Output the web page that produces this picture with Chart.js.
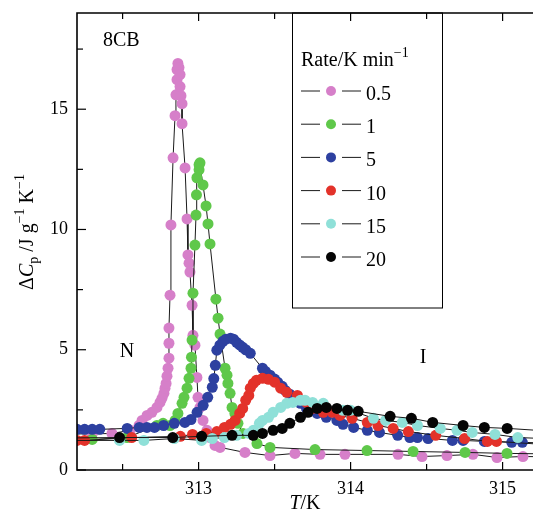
<!DOCTYPE html>
<html>
<head>
<meta charset="utf-8">
<script src="https://cdn.jsdelivr.net/npm/chart.js@4.4.1/dist/chart.umd.min.js"></script>
<style>
  html, body { margin: 0; padding: 0; background: #fff; }
  canvas { display: block; }
</style>
</head>
<body>
<canvas id="c" width="533" height="511" style="width:533px;height:511px"></canvas>
<script>
// Heating rates (K/min) and marker colours
const rates = ['0.5', '1', '5', '10', '15', '20'];
const rateColors = ['#d67fc9', '#5fc84a', '#2d40a0', '#e3322a', '#8fe0d8', '#050505'];

// Excess heat capacity of 8CB across the N–I transition
const T_05  = [312.10, 312.30, 312.43, 312.55, 312.608, 312.628, 312.661, 312.693, 312.726, 312.746, 312.759, 312.772, 312.779, 312.786, 312.792, 312.799, 312.805, 312.805, 312.805, 312.812, 312.818, 312.832, 312.845, 312.851, 312.858, 312.858, 312.864, 312.871, 312.878, 312.878, 312.884, 312.891, 312.891, 312.911, 312.924, 312.930, 312.937, 312.943, 312.957, 312.963, 312.976, 312.989, 312.996, 313.009, 313.029, 313.055, 313.075, 313.108, 313.141, 313.305, 313.470, 313.634, 313.799, 313.963, 314.312, 314.470, 314.634, 314.805, 314.963, 315.134, 315.30];
const Cp_05 = [1.50, 1.50, 1.52, 1.65, 1.85, 2.06, 2.27, 2.40, 2.60, 2.81, 2.98, 3.19, 3.40, 3.60, 3.90, 4.23, 4.65, 5.27, 5.90, 7.27, 10.19, 12.98, 14.73, 15.60, 16.23, 16.65, 16.90, 16.73, 16.44, 15.94, 15.56, 15.23, 14.40, 12.56, 10.44, 8.94, 8.60, 8.23, 6.85, 5.60, 5.19, 3.85, 3.02, 2.60, 2.06, 1.65, 1.35, 1.02, 0.94, 0.73, 0.60, 0.69, 0.65, 0.65, 0.65, 0.56, 0.60, 0.65, 0.52, 0.56, 0.55];

const T_1   = [312.10, 312.30, 312.53, 312.726, 312.766, 312.812, 312.845, 312.864, 312.891, 312.904, 312.924, 312.937, 312.950, 312.953, 312.957, 312.963, 312.976, 312.983, 312.986, 312.989, 313.003, 313.003, 313.009, 313.029, 313.049, 313.062, 313.075, 313.114, 313.128, 313.141, 313.174, 313.187, 313.193, 313.207, 313.220, 313.239, 313.259, 313.292, 313.384, 313.470, 313.766, 314.108, 314.411, 314.753, 315.029, 315.30];
const Cp_1  = [1.27, 1.27, 1.35, 1.85, 1.94, 1.85, 2.06, 2.35, 2.77, 3.02, 3.40, 3.81, 4.23, 4.69, 5.40, 7.35, 9.35, 10.60, 11.44, 12.15, 12.48, 12.69, 12.77, 11.85, 10.98, 10.23, 9.40, 7.10, 6.31, 5.65, 4.23, 3.94, 3.60, 3.19, 2.60, 2.35, 1.94, 1.52, 1.10, 0.94, 0.85, 0.81, 0.77, 0.73, 0.69, 0.67];

const T_5   = [312.20, 312.25, 312.30, 312.35, 312.53, 312.61, 312.66, 312.71, 312.77, 312.84, 312.91, 312.95, 312.99, 313.03, 313.06, 313.09, 313.10, 313.11, 313.12, 313.14, 313.16, 313.18, 313.21, 313.23, 313.25, 313.27, 313.29, 313.31, 313.34, 313.42, 313.44, 313.47, 313.50, 313.52, 313.55, 313.57, 313.60, 313.62, 313.67, 313.71, 313.78, 313.84, 313.91, 313.95, 314.02, 314.11, 314.19, 314.31, 314.39, 314.44, 314.51, 314.67, 314.74, 314.88, 315.06, 315.13, 315.30];
const Cp_5  = [1.69, 1.69, 1.69, 1.69, 1.73, 1.77, 1.77, 1.77, 1.85, 1.94, 1.98, 2.10, 2.40, 2.69, 3.02, 3.44, 3.80, 4.35, 4.98, 5.19, 5.35, 5.44, 5.48, 5.44, 5.31, 5.20, 5.10, 5.00, 4.85, 4.23, 4.10, 3.94, 3.78, 3.65, 3.48, 3.31, 3.15, 3.02, 2.77, 2.56, 2.35, 2.19, 2.06, 1.90, 1.77, 1.65, 1.56, 1.44, 1.35, 1.35, 1.31, 1.23, 1.23, 1.19, 1.15, 1.15, 1.12];

const T_10  = [312.20, 312.25, 312.56, 312.88, 312.96, 313.05, 313.12, 313.17, 313.21, 313.24, 313.27, 313.29, 313.31, 313.33, 313.34, 313.36, 313.38, 313.42, 313.46, 313.50, 313.54, 313.58, 313.65, 313.71, 313.75, 313.82, 313.88, 313.93, 314.01, 314.11, 314.18, 314.28, 314.38, 314.56, 314.75, 314.90, 314.96, 315.30];
const Cp_10 = [1.23, 1.23, 1.35, 1.40, 1.48, 1.52, 1.60, 1.77, 1.90, 2.06, 2.35, 2.56, 2.90, 3.10, 3.40, 3.60, 3.73, 3.81, 3.77, 3.65, 3.40, 3.23, 3.10, 2.81, 2.56, 2.40, 2.40, 2.27, 2.15, 1.98, 1.85, 1.73, 1.60, 1.44, 1.31, 1.19, 1.19, 1.05];

const T_15  = [312.10, 312.48, 312.64, 312.84, 313.02, 313.09, 313.17, 313.25, 313.33, 313.36, 313.40, 313.42, 313.46, 313.49, 313.54, 313.58, 313.62, 313.67, 313.70, 313.75, 313.82, 313.95, 314.00, 314.15, 314.23, 314.34, 314.44, 314.59, 314.70, 314.80, 314.95, 315.10, 315.30];
const Cp_15 = [1.23, 1.23, 1.23, 1.31, 1.23, 1.31, 1.35, 1.44, 1.52, 1.65, 1.94, 2.06, 2.19, 2.40, 2.60, 2.77, 2.81, 2.90, 2.90, 2.81, 2.77, 2.48, 2.48, 2.15, 2.06, 1.98, 1.85, 1.73, 1.65, 1.56, 1.48, 1.35, 1.30];

const T_20  = [312.10, 312.48, 312.83, 313.02, 313.22, 313.36, 313.42, 313.49, 313.55, 313.60, 313.67, 313.72, 313.78, 313.84, 313.91, 313.98, 314.05, 314.26, 314.40, 314.54, 314.74, 314.88, 315.03, 315.30];
const Cp_20 = [1.33, 1.35, 1.35, 1.40, 1.44, 1.44, 1.52, 1.65, 1.73, 1.94, 2.19, 2.40, 2.56, 2.60, 2.56, 2.48, 2.44, 2.23, 2.15, 1.98, 1.85, 1.77, 1.73, 1.62];

// Axis tick values
const xTicks = [313, 314, 315];
const xMinorTicks = [312.5, 313.5, 314.5];
const yTicks = [0, 5, 10, 15];
const yMinorTicks = [2.5, 7.5, 12.5, 17.5];

const seriesT  = [T_05, T_1, T_5, T_10, T_15, T_20];
const seriesCp = [Cp_05, Cp_1, Cp_5, Cp_10, Cp_15, Cp_20];

const SERIF = "'Liberation Serif', 'Times New Roman', serif";
function fontOf(p, base) {
  return (p.i ? 'italic ' : '') + (p.s || base) + 'px ' + SERIF;
}
// Draws a run of text pieces (with sub/superscripts) along the baseline
function drawRich(ctx, parts, x, y, base, align) {
  let w = 0;
  parts.forEach(p => { ctx.font = fontOf(p, base); w += ctx.measureText(p.t).width; });
  let cx = align === 'center' ? x - w / 2 : x;
  ctx.textAlign = 'left';
  ctx.textBaseline = 'alphabetic';
  parts.forEach(p => {
    ctx.font = fontOf(p, base);
    ctx.fillText(p.t, cx, y + (p.dy || 0));
    cx += ctx.measureText(p.t).width;
  });
}

// Build datasets; the fastest rate is drawn on top
const order = [5, 4, 3, 2, 1, 0];
const datasets = order.map(k => ({
  label: rates[k],
  data: seriesT[k].map((t, j) => ({ x: t, y: seriesCp[k][j] })),
  showLine: true,
  borderColor: '#1a1a1a',
  borderWidth: 1,
  pointRadius: 5.5,
  pointHoverRadius: 5.5,
  pointBorderWidth: 0,
  pointBackgroundColor: rateColors[k],
  pointBorderColor: rateColors[k]
}));

const decorations = {
  id: 'decorations',
  afterDraw(chart) {
    const { ctx, chartArea: a, scales: { x, y } } = chart;
    ctx.save();
    ctx.fillStyle = '#000';
    ctx.strokeStyle = '#000';

    // frame: top, left, bottom
    ctx.lineWidth = 1.6;
    ctx.beginPath();
    ctx.moveTo(a.right + 2, a.top);
    ctx.lineTo(a.left, a.top);
    ctx.lineTo(a.left, a.bottom);
    ctx.lineTo(a.right + 2, a.bottom);
    ctx.stroke();

    // inward tick marks
    ctx.lineWidth = 1.2;
    const seg = (x1, y1, x2, y2) => { ctx.beginPath(); ctx.moveTo(x1, y1); ctx.lineTo(x2, y2); ctx.stroke(); };
    xTicks.forEach(v => { const p = x.getPixelForValue(v); seg(p, a.bottom, p, a.bottom - 8); seg(p, a.top, p, a.top + 8); });
    xMinorTicks.forEach(v => { const p = x.getPixelForValue(v); seg(p, a.bottom, p, a.bottom - 6); seg(p, a.top, p, a.top + 6); });
    yTicks.forEach(v => { const p = y.getPixelForValue(v); seg(a.left, p, a.left + 9, p); });
    yMinorTicks.forEach(v => { const p = y.getPixelForValue(v); seg(a.left, p, a.left + 6, p); });

    // axis titles
    drawRich(ctx, [{ t: 'T', i: true }, { t: '/K' }], (a.left + a.right) / 2, 509, 20, 'center');
    ctx.save();
    ctx.translate(33, 232);
    ctx.rotate(-Math.PI / 2);
    drawRich(ctx, [
      { t: 'Δ' }, { t: 'C', i: true }, { t: 'p', s: 14, dy: 5 },
      { t: ' /J g' }, { t: '−1', s: 14, dy: -9 },
      { t: ' K' }, { t: '−1', s: 14, dy: -9 }
    ], 0, 0, 20, 'center');
    ctx.restore();

    // annotations
    drawRich(ctx, [{ t: '8CB' }], 103, 46, 20, 'left');
    drawRich(ctx, [{ t: 'N' }], 127, 357, 20, 'center');
    drawRich(ctx, [{ t: 'I' }], 423, 363, 20, 'center');

    // legend box
    ctx.lineWidth = 1;
    ctx.strokeRect(292.5, a.top, 150, 295);
    drawRich(ctx, [{ t: 'Rate/K min' }, { t: '−1', s: 14, dy: -9 }], 301, 66, 20, 'left');
    rates.forEach((r, i) => {
      const yy = 91 + i * 33.2;
      ctx.strokeStyle = '#1a1a1a';
      ctx.lineWidth = 1;
      seg(301, yy, 320, yy);
      seg(342, yy, 361, yy);
      ctx.fillStyle = rateColors[i];
      ctx.beginPath();
      ctx.arc(331, yy, 5, 0, Math.PI * 2);
      ctx.fill();
      ctx.fillStyle = '#000';
      drawRich(ctx, [{ t: r }], 366, yy + 9, 20, 'left');
    });
    ctx.restore();
  }
};

new Chart(document.getElementById('c'), {
  type: 'scatter',
  data: { datasets },
  options: {
    responsive: false,
    animation: false,
    devicePixelRatio: 1,
    layout: { autoPadding: false, padding: { top: 13, left: 0, right: 0, bottom: 0 } },
    plugins: { legend: { display: false }, tooltip: { enabled: false } },
    scales: {
      x: {
        type: 'linear',
        min: 312.2,
        max: 315.2,
        grid: { display: false, drawTicks: false },
        border: { display: false },
        afterBuildTicks: s => { s.ticks = xTicks.map(v => ({ value: v })); },
        afterFit: s => { s.height = 41; s.paddingLeft = 0; s.paddingRight = 0; },
        ticks: {
          color: '#000',
          padding: 8,
          maxRotation: 0,
          font: { family: SERIF, size: 18 },
          callback: v => String(v)
        }
      },
      y: {
        type: 'linear',
        min: 0,
        max: 19,
        grid: { display: false, drawTicks: false },
        border: { display: false },
        afterBuildTicks: s => { s.ticks = yTicks.map(v => ({ value: v })); },
        afterFit: s => { s.width = 77; s.paddingTop = 0; s.paddingBottom = 0; },
        ticks: {
          color: '#000',
          padding: 9,
          font: { family: SERIF, size: 18 },
          callback: v => String(v)
        }
      }
    }
  },
  plugins: [decorations]
});
</script>
</body>
</html>
